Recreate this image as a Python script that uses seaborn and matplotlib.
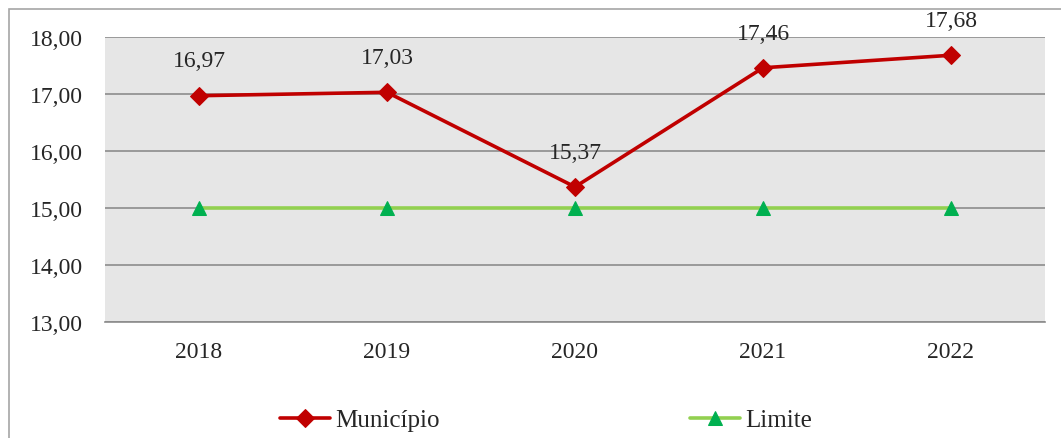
import numpy as np
import pandas as pd
import seaborn as sns
import matplotlib.pyplot as plt
from matplotlib.patches import Rectangle

# Data
years = ["2018", "2019", "2020", "2021", "2022"]
municipio = [16.97, 17.03, 15.37, 17.46, 17.68]
limite = [15.00, 15.00, 15.00, 15.00, 15.00]
y_ticks = [13, 14, 15, 16, 17, 18]

df = pd.DataFrame({
    "ano": years * 2,
    "valor": municipio + limite,
    "serie": ["Município"] * len(years) + ["Limite"] * len(years),
})

sns.set_style("white")
plt.rcParams["font.family"] = ["Liberation Serif", "DejaVu Serif"]
plt.rcParams["font.size"] = 16.5

fig = plt.figure(figsize=(10.61, 4.39), dpi=100)
ax = fig.add_axes([105 / 1061, 1 - 323 / 439, 940 / 1061, 285 / 439])
ax.set_facecolor("#e6e6e6")

sns.lineplot(data=df[df["serie"] == "Limite"], x="ano", y="valor", ax=ax,
             color="#92d050", linewidth=2.6, marker="^", markersize=10,
             markerfacecolor="#00b050", markeredgecolor="#00b050",
             label="Limite", legend=False, zorder=3)
sns.lineplot(data=df[df["serie"] == "Município"], x="ano", y="valor", ax=ax,
             color="#c00000", linewidth=2.6, marker="D", markersize=9,
             markerfacecolor="#c00000", markeredgecolor="#c00000",
             label="Município", legend=False, zorder=4)

# data labels above the red points
for i, v in enumerate(municipio):
    ax.annotate(f"{v:.2f}".replace(".", ","), (i, v), xytext=(0, 25),
                textcoords="offset points", ha="center", va="center",
                fontsize=17, color="#262626", annotation_clip=False)

ax.set_xlim(-0.5, len(years) - 0.5)
ax.set_ylim(13, 18)
ax.set_yticks(y_ticks)
ax.set_yticklabels([f"{t:.2f}".replace(".", ",") for t in y_ticks])
ax.yaxis.grid(True, color="#8c8c8c", linewidth=1.2)
ax.set_axisbelow(True)
ax.tick_params(axis="both", length=0, labelsize=17, colors="#262626")
ax.tick_params(axis="x", pad=14)
ax.tick_params(axis="y", pad=16)
ax.set_xlabel("")
ax.set_ylabel("")
for s in ["top", "right", "left"]:
    ax.spines[s].set_visible(False)
ax.spines["bottom"].set_color("#8c8c8c")
ax.spines["bottom"].set_linewidth(1.2)

# chart area border (cropped on right and bottom in the reference)
fig.patches.append(Rectangle((9 / 1061, -0.1), 1.2, 1.1 - 10 / 439,
                             transform=fig.transFigure, fill=False,
                             edgecolor="#a6a6a6", linewidth=1.2))

h, l = ax.get_legend_handles_labels()
order = [l.index("Município"), l.index("Limite")]
fig.legend([h[i] for i in order], [l[i] for i in order], loc="center",
           bbox_to_anchor=(546 / 1061, 1 - 421 / 439), ncol=2, frameon=False,
           handlelength=2.0, handletextpad=0.2, columnspacing=10.0,
           fontsize=18)

fig.savefig("out.png", dpi=100)
